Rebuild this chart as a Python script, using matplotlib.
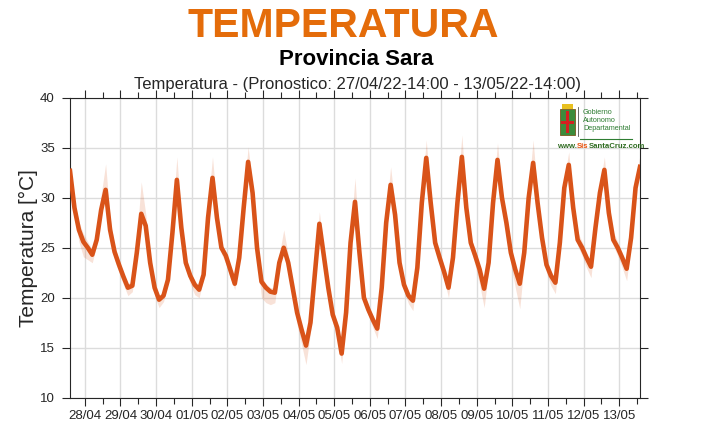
import numpy as np
import matplotlib
matplotlib.use("Agg")
import matplotlib.pyplot as plt
import matplotlib.dates as mdates
from matplotlib.patches import Rectangle

# ---------------- data (3-hourly, from 27/04/22 14:00 to 13/05/22 14:00) ----------------
start_time = "2022-04-27T14:00"
step_hours = 3

# each row: 14h, 17h, 20h, 23h, 02h, 05h, 08h, 11h
temp = [
    32.7, 29.0, 26.8, 25.6, 25.0, 24.3, 25.8, 28.8,   # 27/04
    30.8, 26.8, 24.6, 23.3, 22.1, 21.0, 21.2, 24.5,   # 28/04
    28.4, 27.2, 23.5, 21.0, 19.8, 20.2, 21.8, 26.5,   # 29/04
    31.8, 27.0, 23.5, 22.2, 21.3, 20.8, 22.3, 28.0,   # 30/04
    32.0, 28.0, 25.0, 24.2, 22.8, 21.4, 24.0, 29.0,   # 01/05
    33.6, 30.5, 25.0, 21.6, 21.0, 20.6, 20.5, 23.5,   # 02/05
    25.0, 23.5, 21.0, 18.5, 16.8, 15.2, 17.5, 22.5,   # 03/05
    27.4, 24.2, 21.0, 18.3, 17.0, 14.4, 18.5, 25.5,   # 04/05
    29.6, 24.5, 20.0, 18.8, 17.8, 16.9, 21.0, 27.5,   # 05/05
    31.3, 28.3, 23.5, 21.3, 20.2, 19.7, 23.0, 29.5,   # 06/05
    34.0, 29.5, 25.5, 24.0, 22.6, 21.0, 24.0, 29.5,   # 07/05
    34.1, 29.0, 25.5, 24.2, 22.8, 20.9, 23.5, 29.5,   # 08/05
    33.8, 30.0, 27.5, 24.5, 22.8, 21.4, 24.5, 30.0,   # 09/05
    33.5, 29.5, 26.0, 23.3, 22.2, 21.5, 25.5, 31.0,   # 10/05
    33.3, 29.0, 25.8, 25.0, 24.0, 23.1, 27.0, 30.5,   # 11/05
    32.8, 28.5, 25.8, 25.0, 24.0, 22.9, 26.0, 31.0,   # 12/05
    33.1,                                             # 13/05 14h
]

# spread of the forecast band above / below the line
spread_up = [
    0.3, 0.6, 0.8, 0.8, 0.6, 0.5, 0.8, 1.5,
    2.6, 1.2, 0.6, 0.4, 0.4, 0.4, 0.5, 1.5,
    3.2, 1.2, 0.5, 0.4, 0.4, 0.4, 0.6, 1.5,
    2.3, 1.0, 0.5, 0.4, 0.4, 0.4, 0.6, 1.4,
    2.1, 1.0, 0.5, 0.4, 0.4, 0.4, 0.6, 1.4,
    1.5, 0.8, 0.5, 0.5, 0.4, 0.4, 0.5, 0.8,
    1.8, 0.8, 0.6, 0.5, 0.5, 0.5, 0.5, 0.8,
    1.2, 0.6, 0.5, 0.5, 0.5, 0.4, 0.5, 0.8,
    2.4, 0.8, 0.5, 0.4, 0.4, 0.4, 0.5, 1.0,
    1.8, 0.8, 0.8, 0.4, 0.4, 0.4, 0.5, 1.0,
    1.8, 0.8, 0.5, 0.8, 0.5, 0.4, 0.5, 1.0,
    2.2, 0.8, 0.5, 0.6, 0.4, 0.4, 0.5, 1.0,
    1.7, 0.8, 0.5, 0.5, 0.4, 0.4, 0.5, 1.0,
    2.3, 0.8, 0.5, 0.5, 0.5, 0.4, 0.5, 1.0,
    1.3, 0.8, 0.8, 0.6, 0.5, 0.4, 0.5, 0.8,
    1.3, 0.8, 0.8, 0.6, 0.5, 0.4, 0.5, 0.8,
    1.2,
]
spread_dn = [
    0.3, 0.8, 1.2, 1.5, 1.2, 0.8, 0.5, 0.5,
    0.4, 0.6, 0.8, 0.8, 0.8, 0.8, 0.6, 0.4,
    0.4, 0.5, 0.8, 0.8, 0.8, 0.6, 0.4, 0.4,
    0.4, 0.5, 0.6, 0.8, 1.0, 0.8, 0.4, 0.4,
    0.4, 0.5, 0.6, 0.8, 0.8, 0.6, 0.4, 0.4,
    0.4, 0.6, 1.0, 1.6, 1.5, 1.3, 1.0, 0.6,
    0.4, 0.6, 1.0, 1.2, 1.5, 1.9, 1.0, 0.5,
    0.4, 0.5, 0.6, 0.8, 0.8, 1.0, 0.8, 0.4,
    0.4, 0.5, 0.6, 0.6, 0.8, 1.0, 0.6, 0.4,
    0.4, 0.4, 0.6, 0.6, 0.8, 1.0, 0.5, 0.4,
    0.4, 0.4, 0.5, 0.6, 0.8, 1.0, 0.5, 0.4,
    0.4, 0.4, 0.6, 1.0, 1.5, 1.9, 0.8, 0.4,
    0.4, 0.5, 0.8, 1.2, 1.8, 2.5, 1.0, 0.4,
    0.4, 0.5, 0.6, 0.8, 1.0, 1.1, 0.6, 0.4,
    0.4, 0.5, 0.6, 0.8, 1.0, 1.1, 0.6, 0.4,
    0.4, 0.5, 0.6, 0.8, 1.0, 1.2, 0.6, 0.4,
    0.4,
]

y_ticks = [10, 15, 20, 25, 30, 35, 40]
title_main = "TEMPERATURA"
title_place = "Provincia Sara"
subtitle = "Temperatura - (Pronostico: 27/04/22-14:00 - 13/05/22-14:00)"
ylabel = "Temperatura [°C]"
logo_lines = ["Gobierno", "Autonomo", "Departamental"]
logo_url = [("www.", '#2e6b20'), ("Sis", '#e8500a'), ("SantaCruz.com", '#2e6b20')]

# ---------------- figure ----------------
plt.rcParams['font.family'] = ['Liberation Sans', 'DejaVu Sans']

W, H = 711, 426
fig = plt.figure(figsize=(W / 100, H / 100), dpi=100)
ax = fig.add_axes([70 / W, 1 - 397.5 / H, 570 / W, 299.5 / H])

t = np.datetime64(start_time) + np.arange(len(temp)) * np.timedelta64(step_hours, 'h')
t = t.astype('datetime64[s]').astype(object)
temp_a = np.array(temp)
upper = temp_a + np.array(spread_up)
lower = temp_a - np.array(spread_dn)

line_col = '#D95319'
ax.fill_between(t, lower, upper, color=line_col, alpha=0.17, linewidth=0, zorder=2)
ax.plot(t, temp_a, color=line_col, linewidth=3.3, zorder=3)

ax.set_xlim(t[0], t[-1])
ax.set_ylim(10, 40)
ax.set_yticks(y_ticks)

ax.xaxis.set_major_locator(mdates.DayLocator())
ax.xaxis.set_major_formatter(mdates.DateFormatter('%d/%m'))
ax.xaxis.set_minor_locator(mdates.HourLocator(byhour=[12]))

tick_col = '#262626'
ax.tick_params(axis='both', which='major', direction='out', length=6, width=0.8,
               color=tick_col, labelcolor=tick_col, labelsize=9.5,
               top=True, right=True, labeltop=False, labelright=False)
ax.tick_params(axis='x', which='minor', direction='out', length=4, width=0.8,
               color=tick_col, top=True, bottom=True)
ax.tick_params(axis='x', which='major', pad=3)
ax.tick_params(axis='y', which='major', pad=5)

for s in ax.spines.values():
    s.set_color('#262626')
    s.set_linewidth(0.8)

ax.grid(True, which='major', color='#dcdcdc', linewidth=1.0, zorder=0)
ax.set_axisbelow(True)

ax.set_ylabel(ylabel, fontsize=15, color=tick_col, labelpad=1)

# ---------------- titles ----------------
fig.text(343.5 / W, 1 - 37 / H, title_main, fontsize=29.5, fontweight='bold',
         color='#E46C0A', ha='center', va='baseline')
fig.text(356 / W, 1 - 65 / H, title_place, fontsize=16, fontweight='bold',
         color='black', ha='center', va='baseline')
fig.text(357 / W, 1 - 89 / H, subtitle, fontsize=12, color=tick_col,
         ha='center', va='baseline')

# ---------------- logo (approximation) ----------------
fig.patches.append(Rectangle((560 / W, 1 - 135 / H), 15 / W, 26 / H, transform=fig.transFigure,
                             facecolor='#3c8c3c', edgecolor='#7a5a20', linewidth=0.6, zorder=5))
fig.patches.append(Rectangle((566 / W, 1 - 133 / H), 3 / W, 22 / H, transform=fig.transFigure,
                             facecolor='#d42020', edgecolor='none', zorder=6))
fig.patches.append(Rectangle((561 / W, 1 - 124 / H), 13 / W, 3 / H, transform=fig.transFigure,
                             facecolor='#d42020', edgecolor='none', zorder=6))
fig.patches.append(Rectangle((562 / W, 1 - 109 / H), 11 / W, 5 / H, transform=fig.transFigure,
                             facecolor='#e8c020', edgecolor='none', zorder=6))
fig.add_artist(plt.Line2D([578 / W, 578 / W], [1 - 107 / H, 1 - 136 / H],
                          color='#555555', linewidth=0.6, transform=fig.transFigure))
for i, w in enumerate(logo_lines):
    fig.text(583 / W, 1 - (113 + i * 8) / H, w, fontsize=5.2, color='#2e7d32',
             ha='left', va='center', zorder=7)
fig.add_artist(plt.Line2D([580 / W, 632 / W], [1 - 139 / H, 1 - 139 / H],
                          color='#2e7d32', linewidth=0.8, transform=fig.transFigure))

renderer = fig.canvas.get_renderer()
x_px = 557.0
for txt, col in logo_url:
    tt = fig.text(x_px / W, 1 - 146 / H, txt, fontsize=5.6, fontweight='bold', color=col,
                  ha='left', va='center', zorder=7)
    x_px += tt.get_window_extent(renderer).width

fig.savefig("out.png", dpi=100)
